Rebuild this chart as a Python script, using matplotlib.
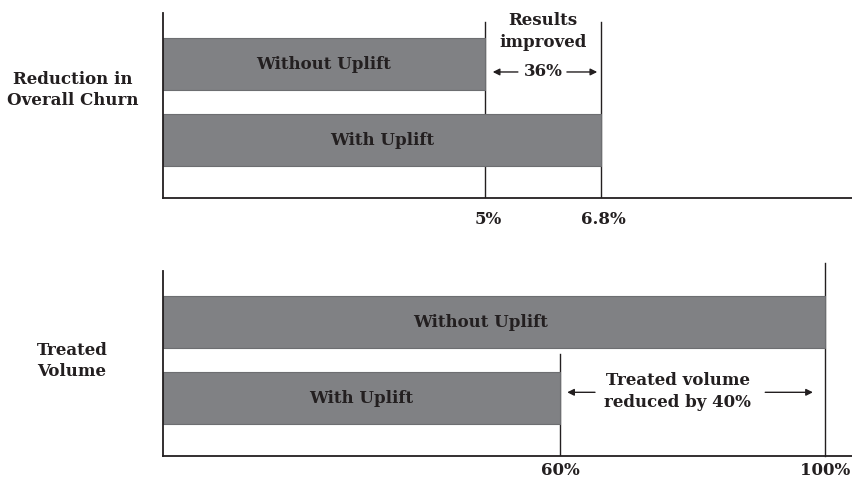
import matplotlib.pyplot as plt
from matplotlib.transforms import ScaledTranslation

# churn reduction (%)
churn_labels = ["Without Uplift", "With Uplift"]
churn_values = [5.0, 6.8]
churn_ticks = ["5%", "6.8%"]
churn_gain = "36%"

# treated volume (%)
volume_labels = ["Without Uplift", "With Uplift"]
volume_values = [100, 60]
volume_ticks = ["60%", "100%"]
volume_cut = "40%"

plt.rcParams['font.family'] = ['DejaVu Serif', 'Liberation Serif']
plt.rcParams['font.weight'] = 'bold'
ink = '#231f20'
bar_c = '#808184'
fs = 12

fig = plt.figure(figsize=(8.52, 4.83), dpi=100)
W, H = 852.0, 483.0


def make_axes(top_px, bottom_px, xmax, pad):
    ax = fig.add_axes([162.5 / W, 1 - bottom_px / H, (W - 162.5) / W, (bottom_px - top_px) / H])
    ax.set_xlim(0, xmax)
    ax.set_ylim(-0.763, 1.671)
    for s in ['top', 'right']:
        ax.spines[s].set_visible(False)
    for s in ['left', 'bottom']:
        ax.spines[s].set_color(ink)
        ax.spines[s].set_linewidth(1.3)
    ax.set_yticks([])
    ax.tick_params(axis='x', length=0, pad=pad, labelsize=fs, labelcolor=ink)
    return ax


def bars(ax, labels, values, text_x=None):
    ys = [1, 0]
    ax.barh(ys, values, height=0.684, color=bar_c, edgecolor='#6d6e71', linewidth=0.8, zorder=2)
    for i, (lab, v, y) in enumerate(zip(labels, values, ys)):
        x = v / 2 if text_x is None or text_x[i] is None else text_x[i]
        ax.text(x, y, lab, ha='center', va='center', fontsize=fs, color=ink,
                fontweight='bold', zorder=3)


def shift_ticklabels(ax, dx_pt):
    off = ScaledTranslation(dx_pt / 72, 0, fig.dpi_scale_trans)
    for lab in ax.get_xticklabels():
        lab.set_transform(lab.get_transform() + off)


def arrow(ax, x_from, x_to, y):
    ax.annotate('', xy=(x_to, y), xytext=(x_from, y),
                arrowprops=dict(arrowstyle='-|>', color=ink, lw=1.0, mutation_scale=10,
                                shrinkA=0, shrinkB=0))


# top panel: churn
ax1 = make_axes(13, 198, 10.69, pad=9.5)
bars(ax1, churn_labels, churn_values)
for v in churn_values:
    ax1.axvline(v, ymin=0, ymax=0.951, color=ink, lw=1.0, zorder=1)
ax1.set_xticks(churn_values, churn_ticks)
shift_ticklabels(ax1, 2)
mid = 5.9
ax1.text(mid, 1.43, "Results\nimproved", ha='center', va='center', fontsize=fs,
         color=ink, linespacing=1.4)
ya = 0.895
ax1.text(mid, ya, churn_gain, ha='center', va='center', fontsize=fs, color=ink)
arrow(ax1, 5.51, 5.12, ya)
arrow(ax1, 6.27, 6.74, ya)

# bottom panel: treated volume
ax2 = make_axes(271, 456, 104.1, pad=4)
bars(ax2, volume_labels, volume_values, text_x=[48, None])
ax2.axvline(volume_values[0], ymin=0, ymax=1.043, color=ink, lw=1.0, clip_on=False, zorder=1)
ax2.axvline(volume_values[1], ymin=0, ymax=0.551, color=ink, lw=1.0, zorder=1)
ax2.set_xticks(sorted(volume_values), volume_ticks)
ax2.text(77.8, 0.09, "Treated volume\nreduced by " + volume_cut, ha='center', va='center',
         fontsize=fs, color=ink, linespacing=1.4)
yb = 0.075
arrow(ax2, 65.3, 61.1, yb)
arrow(ax2, 91.0, 98.2, yb)

# row titles
fig.text(73 / W, 1 - 90 / H, "Reduction in\nOverall Churn", ha='center', va='center',
         fontsize=fs, color=ink, linespacing=1.35)
fig.text(72 / W, 1 - 361 / H, "Treated\nVolume", ha='center', va='center',
         fontsize=fs, color=ink, linespacing=1.35)

fig.savefig('out.png', dpi=100)
